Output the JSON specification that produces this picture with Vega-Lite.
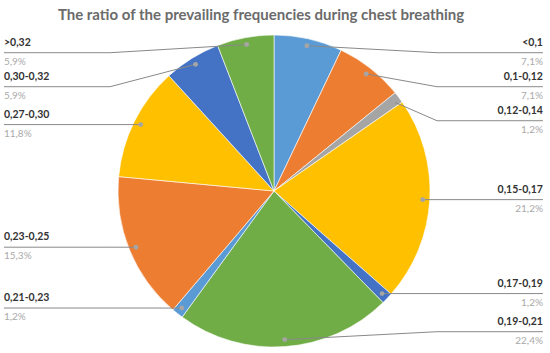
{
  "$schema": "https://vega.github.io/schema/vega-lite/v6.json",
  "autosize": {"type": "none"},
  "padding": {"left": 0, "top": 35, "right": 2, "bottom": 6},
  "width": 548,
  "height": 312,
  "title": {"text": "The ratio of the prevailing frequencies during chest breathing", "font": "Lato", "fontSize": 15, "fontWeight": "bold", "color": "#6b6b6b", "anchor": "middle", "baseline": "alphabetic", "offset": 16, "dx": -13, "dy": 17},
  "config": {"view": {"stroke": null}},
  "data": {"values": [
    {"k": 1, "cat": "<0,1", "pct": 7.1, "pctLabel": "7,1%"},
    {"k": 2, "cat": "0,1-0,12", "pct": 7.1, "pctLabel": "7,1%"},
    {"k": 3, "cat": "0,12-0,14", "pct": 1.2, "pctLabel": "1,2%"},
    {"k": 4, "cat": "0,15-0,17", "pct": 21.2, "pctLabel": "21,2%"},
    {"k": 5, "cat": "0,17-0,19", "pct": 1.2, "pctLabel": "1,2%"},
    {"k": 6, "cat": "0,19-0,21", "pct": 22.4, "pctLabel": "22,4%"},
    {"k": 7, "cat": "0,21-0,23", "pct": 1.2, "pctLabel": "1,2%"},
    {"k": 8, "cat": "0,23-0,25", "pct": 15.3, "pctLabel": "15,3%"},
    {"k": 9, "cat": "0,27-0,30", "pct": 11.8, "pctLabel": "11,8%"},
    {"k": 10, "cat": "0,30-0,32", "pct": 5.9, "pctLabel": "5,9%"},
    {"k": 11, "cat": ">0,32", "pct": 5.9, "pctLabel": "5,9%"}
  ]},
  "transform": [
    {"joinaggregate": [{"op": "sum", "field": "pct", "as": "total"}]},
    {"window": [{"op": "sum", "field": "pct", "as": "cum"}], "sort": [{"field": "k", "order": "ascending"}], "frame": [null, 0]},
    {"calculate": "2*PI*(datum.cum - datum.pct/2)/datum.total", "as": "a"},
    {"calculate": "0.955*sin(datum.a)", "as": "p1x"},
    {"calculate": "-0.955*cos(datum.a)", "as": "dy"},
    {"calculate": "sin(datum.a) > 0 ? 'R' : 'L'", "as": "side"},
    {"calculate": "max(datum.dy, -0.8865)", "as": "y0"},
    {"window": [{"op": "row_number", "as": "i"}], "groupby": ["side"], "sort": [{"field": "dy", "order": "ascending"}]},
    {"calculate": "datum.y0 - datum.i*0.218", "as": "v"},
    {"window": [{"op": "max", "field": "v", "as": "cm"}], "groupby": ["side"], "sort": [{"field": "dy", "order": "ascending"}], "frame": [null, 0]},
    {"calculate": "min(datum.cm + datum.i*0.218, 0.902)", "as": "ly"},
    {"calculate": "datum.side == 'R' ? 1.045 : -1.051", "as": "p2x"},
    {"calculate": "datum.side == 'R' ? 1.724 : -1.731", "as": "p3x"}
  ],
  "layer": [
    {
      "mark": {"type": "arc", "outerRadius": 156, "stroke": "#ffffff", "strokeWidth": 0.6},
      "encoding": {
        "theta": {"field": "pct", "type": "quantitative", "stack": true},
        "order": {"field": "k", "type": "quantitative"},
        "color": {"field": "cat", "type": "nominal", "legend": null, "sort": null,
          "scale": {"domain": ["<0,1", "0,1-0,12", "0,12-0,14", "0,15-0,17", "0,17-0,19", "0,19-0,21", "0,21-0,23", "0,23-0,25", "0,27-0,30", "0,30-0,32", ">0,32"],
                    "range": ["#5B9BD5", "#ED7D31", "#A5A5A5", "#FFC000", "#4472C4", "#70AD47", "#5B9BD5", "#ED7D31", "#FFC000", "#4472C4", "#70AD47"]}}
      }
    },
    {
      "transform": [
        {"fold": ["p1x", "p2x", "p3x"], "as": ["key", "lx"]},
        {"calculate": "datum.key == 'p1x' ? datum.dy : datum.ly", "as": "lyy"}
      ],
      "mark": {"type": "line", "color": "#898989", "strokeWidth": 1},
      "encoding": {
        "x": {"field": "lx", "type": "quantitative", "axis": null, "scale": {"domain": [-1.7564, 1.7564], "nice": false, "zero": false}},
        "y": {"field": "lyy", "type": "quantitative", "axis": null, "scale": {"domain": [-1, 1], "nice": false, "zero": false, "reverse": true}},
        "detail": {"field": "cat", "type": "nominal"},
        "order": {"field": "key", "type": "nominal"}
      }
    },
    {
      "mark": {"type": "point", "filled": true, "color": "#a5a5a5", "opacity": 1, "size": 24},
      "encoding": {
        "x": {"field": "p1x", "type": "quantitative", "axis": null, "scale": {"domain": [-1.7564, 1.7564], "nice": false, "zero": false}},
        "y": {"field": "dy", "type": "quantitative", "axis": null, "scale": {"domain": [-1, 1], "nice": false, "zero": false, "reverse": true}}
      }
    },
    {
      "mark": {"type": "text", "font": "Lato", "fontSize": 10.5, "fontWeight": "bold", "color": "#333333", "baseline": "alphabetic", "dy": -7,
               "align": {"expr": "datum.side == 'R' ? 'right' : 'left'"}},
      "encoding": {
        "x": {"field": "p3x", "type": "quantitative", "axis": null, "scale": {"domain": [-1.7564, 1.7564], "nice": false, "zero": false}},
        "y": {"field": "ly", "type": "quantitative", "axis": null, "scale": {"domain": [-1, 1], "nice": false, "zero": false, "reverse": true}},
        "text": {"field": "cat", "type": "nominal"}
      }
    },
    {
      "mark": {"type": "text", "font": "Lato", "fontSize": 10, "color": "#a9a9a9", "baseline": "alphabetic", "dy": 12,
               "align": {"expr": "datum.side == 'R' ? 'right' : 'left'"}},
      "encoding": {
        "x": {"field": "p3x", "type": "quantitative", "axis": null, "scale": {"domain": [-1.7564, 1.7564], "nice": false, "zero": false}},
        "y": {"field": "ly", "type": "quantitative", "axis": null, "scale": {"domain": [-1, 1], "nice": false, "zero": false, "reverse": true}},
        "text": {"field": "pctLabel", "type": "nominal"}
      }
    }
  ]
}
